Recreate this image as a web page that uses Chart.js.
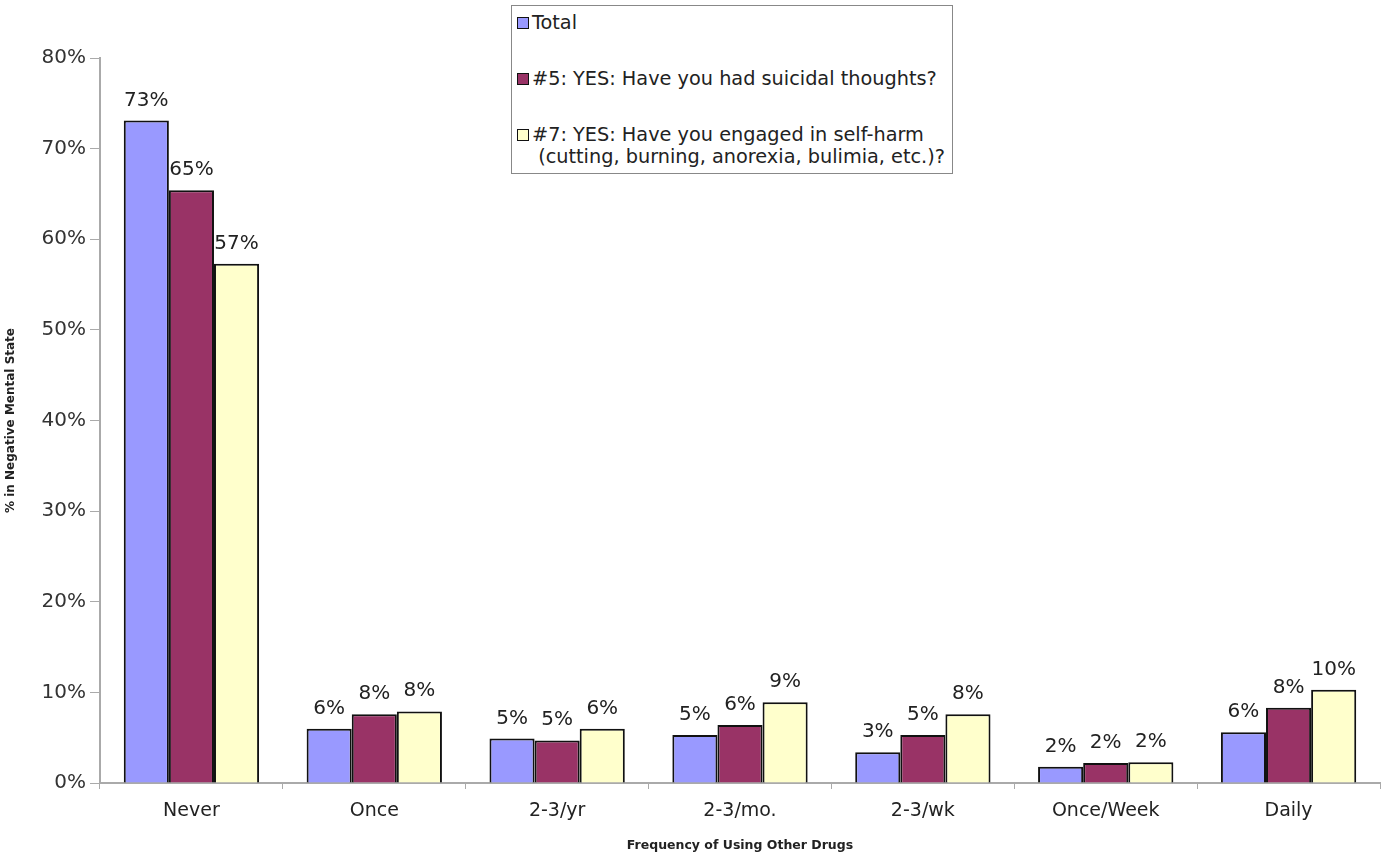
<!DOCTYPE html>
<html>
<head>
<meta charset="utf-8">
<script src="https://cdn.jsdelivr.net/npm/chart.js@4"></script>
<style>
  body { margin: 0; background: #fff; }
  #wrap { position: relative; width: 1383px; height: 857px; }
  #legend {
    position: absolute; left: 511px; top: 5px; width: 442px; height: 169px;
    border: 1.5px solid #888; background: #fff; box-sizing: border-box;
    font-family: "DejaVu Sans", sans-serif; font-size: 19.3px; color: #222;
    padding: 6px 5px;
  }
  #legend .item { display: flex; align-items: flex-start; line-height: 22px; }
  #legend .box { width: 10px; height: 10px; border: 1.5px solid #111; margin: 5px 3px 0 0; flex: none; }
</style>
</head>
<body>
<div id="wrap">
  <canvas id="chart" width="1383" height="857"></canvas>
  <div id="legend"></div>
</div>
<script>
const categories = ["Never", "Once", "2-3/yr", "2-3/mo.", "2-3/wk", "Once/Week", "Daily"];
const seriesNames = [
  "Total",
  "#5: YES: Have you had suicidal thoughts?",
  "#7: YES: Have you engaged in self-harm\n(cutting, burning, anorexia, bulimia, etc.)?"
];
const totalValues    = [73.1, 6.0, 4.9, 5.3, 3.4, 1.8, 5.6];
const suicidalValues = [65.4, 7.6, 4.7, 6.4, 5.3, 2.2, 8.3];
const selfHarmValues = [57.3, 7.9, 6.0, 8.9, 7.6, 2.3, 10.3];
const seriesColors = ["#9999ff", "#993366", "#ffffcc"];
const yTicks = [0, 10, 20, 30, 40, 50, 60, 70, 80];

const font = "'DejaVu Sans', sans-serif";

// value labels above bars
const valueLabels = {
  id: "valueLabels",
  afterDatasetsDraw(chart) {
    const ctx = chart.ctx;
    ctx.save();
    ctx.font = "20px " + font;
    ctx.fillStyle = "#222";
    ctx.textAlign = "center";
    ctx.textBaseline = "alphabetic";
    chart.data.datasets.forEach((ds, i) => {
      chart.getDatasetMeta(i).data.forEach((bar, j) => {
        ctx.fillText(Math.round(ds.data[j]) + "%", bar.x, bar.y - 15);
      });
    });
    ctx.restore();
  }
};

const values = [totalValues, suicidalValues, selfHarmValues];

new Chart(document.getElementById("chart"), {
  type: "bar",
  data: {
    labels: categories,
    datasets: values.map((v, i) => ({
      label: seriesNames[i],
      data: v,
      backgroundColor: seriesColors[i],
      borderColor: "#111",
      borderWidth: 2,
      categoryPercentage: 0.74,
      barPercentage: 1
    }))
  },
  options: {
    responsive: false,
    animation: false,
    layout: { padding: { top: 58, right: 3, left: 0, bottom: 0 } },
    plugins: {
      legend: { display: false },
      tooltip: { enabled: false }
    },
    scales: {
      x: {
        grid: { drawOnChartArea: false, drawTicks: true, tickLength: 6, color: "#aaa" },
        border: { color: "#aaa", width: 2 },
        ticks: { font: { family: font, size: 19 }, color: "#222", padding: 11 },
        title: {
          display: true, text: "Frequency of Using Other Drugs",
          font: { family: font, size: 12.5, weight: "bold" }, color: "#222", padding: { top: 4 }
        },
        afterFit: s => { s.height = 74; }
      },
      y: {
        min: 0, max: 80,
        afterBuildTicks: s => { s.ticks = yTicks.map(v => ({ value: v })); },
        grid: { drawOnChartArea: false, drawTicks: true, tickLength: 10, color: "#aaa" },
        border: { color: "#aaa", width: 2 },
        ticks: {
          font: { family: font, size: 20 }, color: "#333", padding: 4,
          callback: v => v + "%"
        },
        title: {
          display: true, text: "% in Negative Mental State",
          font: { family: font, size: 12, weight: "bold" }, color: "#222", padding: { bottom: 2 }
        },
        afterFit: s => { s.width = 100; }
      }
    }
  },
  plugins: [valueLabels]
});

// legend drawn as html, built from the series
const legend = document.getElementById("legend");
seriesNames.forEach((name, i) => {
  const item = document.createElement("div");
  item.className = "item";
  item.style.marginBottom = i < 2 ? "34px" : "0";
  const box = document.createElement("span");
  box.className = "box";
  box.style.background = seriesColors[i];
  const txt = document.createElement("span");
  txt.style.whiteSpace = "pre";
  txt.textContent = name.replace("\n", "\n ");
  item.appendChild(box);
  item.appendChild(txt);
  legend.appendChild(item);
});
</script>
</body>
</html>
